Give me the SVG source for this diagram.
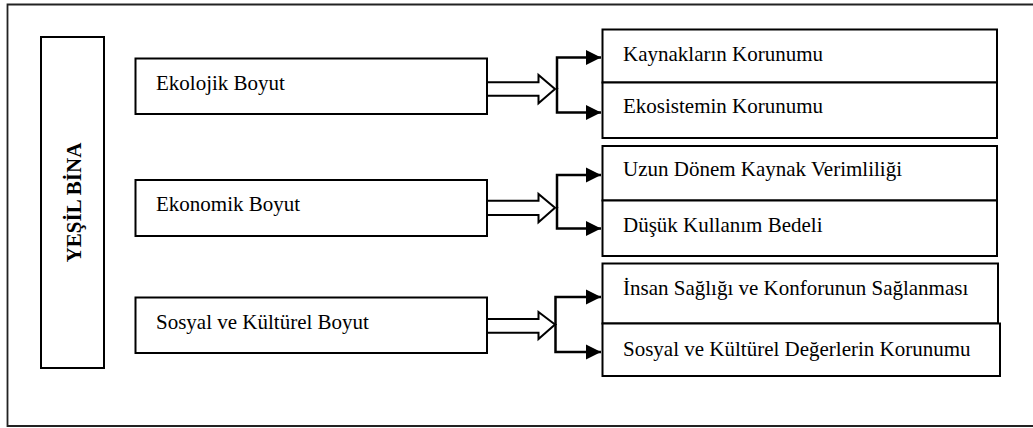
<svg xmlns="http://www.w3.org/2000/svg" width="1033" height="428" viewBox="0 0 1033 428">
<style>
  .box{fill:#fff;stroke:#000;stroke-width:2}
  .t{font-family:'Liberation Serif','Tinos','Times New Roman','DejaVu Serif',serif;font-size:21px;fill:#000}
  .tb{font-family:'Liberation Serif','Tinos','Times New Roman','DejaVu Serif',serif;font-size:21px;font-weight:bold;fill:#000}
  .ln{fill:none;stroke:#000;stroke-width:2.5}
  .hollow{fill:#fff;stroke:#000;stroke-width:2;stroke-linejoin:miter}
</style>
<defs>
  <marker id="ah" markerUnits="userSpaceOnUse" markerWidth="16" markerHeight="16" viewBox="0 0 16 16" refX="15" refY="8" orient="auto">
    <path d="M0,0.5 L15,8 L0,15.5 Z" fill="#000"/>
  </marker>
</defs>
<rect x="0" y="0" width="1033" height="428" fill="#fff"/>
<g id="frame">
  <path d="M1040,4.5 L7.5,4.5 L7.5,426 L1040,426" fill="none" stroke="#222" stroke-width="1.8"/>
</g>
<g id="yesil-bina">
  <rect class="box" x="41" y="37" width="63" height="331"/>
  <text class="tb" transform="translate(80.5,202.5) rotate(-90)" text-anchor="middle">YEŞİL BİNA</text>
</g>
<g id="ekolojik">
  <rect class="box" x="135.5" y="58.5" width="351.5" height="55.5"/>
  <text class="t" x="156" y="90">Ekolojik Boyut</text>
</g>
<g id="ekonomik">
  <rect class="box" x="135.5" y="180" width="351.5" height="56"/>
  <text class="t" x="156" y="211">Ekonomik Boyut</text>
</g>
<g id="sosyal">
  <rect class="box" x="135.5" y="297.5" width="351.5" height="55.5"/>
  <text class="t" x="156" y="328.5">Sosyal ve Kültürel Boyut</text>
</g>
<g id="kaynak">
  <rect class="box" x="602.5" y="29.5" width="394.5" height="53"/>
  <text class="t" x="623" y="60.5">Kaynakların Korunumu</text>
</g>
<g id="ekosistem">
  <rect class="box" x="602.5" y="82.5" width="394.5" height="55.5"/>
  <text class="t" x="623" y="113">Ekosistemin Korunumu</text>
</g>
<g id="uzun">
  <rect class="box" x="602.5" y="146" width="394.5" height="54.5"/>
  <text class="t" x="623" y="175.5">Uzun Dönem Kaynak Verimliliği</text>
</g>
<g id="dusuk">
  <rect class="box" x="602.5" y="200.5" width="394.5" height="55.5"/>
  <text class="t" x="623" y="232">Düşük Kullanım Bedeli</text>
</g>
<g id="insan">
  <rect class="box" x="602.5" y="263.5" width="395.5" height="60"/>
  <text class="t" x="623" y="295">İnsan Sağlığı ve Konforunun Sağlanması</text>
</g>
<g id="sosyal-deger">
  <rect class="box" x="602.5" y="323.5" width="397.5" height="52.5"/>
  <text class="t" x="623" y="355.5">Sosyal ve Kültürel Değerlerin Korunumu</text>
</g>
<g id="connectors">
  <polygon class="hollow" points="487,82.3 538.5,82.3 538.5,75 555,89 538.5,103.3 538.5,95.7 487,95.7"/>
  <path class="ln" d="M557,89 L557,57.5 L601,57.5" marker-end="url(#ah)"/>
  <path class="ln" d="M557,88 L557,112.5 L601,112.5" marker-end="url(#ah)"/>
  <polygon class="hollow" points="487,200.7 538.5,200.7 538.5,194 555,207.7 538.5,222.3 538.5,215 487,215"/>
  <path class="ln" d="M557,208 L557,175 L601,175" marker-end="url(#ah)"/>
  <path class="ln" d="M557,207 L557,228.5 L601,228.5" marker-end="url(#ah)"/>
  <polygon class="hollow" points="487,319 538.5,319 538.5,312 555,324.5 538.5,339 538.5,332.7 487,332.7"/>
  <path class="ln" d="M555.5,325 L555.5,297 L601,297" marker-end="url(#ah)"/>
  <path class="ln" d="M555.5,324 L555.5,352 L601,352" marker-end="url(#ah)"/>
</g>
</svg>
